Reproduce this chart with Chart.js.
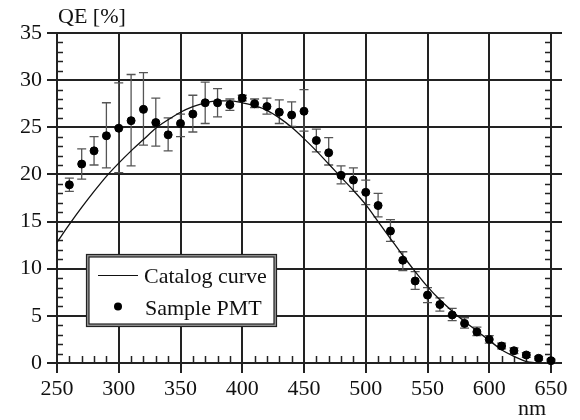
<!DOCTYPE html>
<html>
<head>
<meta charset="utf-8">
<script src="https://cdn.jsdelivr.net/npm/chart.js@4/dist/chart.umd.min.js"></script>
<style>
  html, body { margin: 0; padding: 0; background: #fff; }
  #wrap { width: 580px; height: 420px; position: relative; }
</style>
</head>
<body>
<div id="wrap"><canvas id="c" width="580" height="420"></canvas></div>
<script>
// ---- data ----
const nm = [260,270,280,290,300,310,320,330,340,350,360,370,380,390,400,410,420,430,440,450,
            460,470,480,490,500,510,520,530,540,550,560,570,580,590,600,610,620,630,640,650];
const qe = [18.9,21.1,22.5,24.1,24.9,25.7,26.9,25.5,24.2,25.4,26.4,27.6,27.6,27.4,28.1,27.5,27.2,26.6,26.3,26.7,
            23.6,22.3,19.9,19.4,18.1,16.7,14.0,10.9,8.7,7.2,6.2,5.1,4.2,3.3,2.5,1.8,1.3,0.85,0.5,0.25];
const qeUpper = [19.6,22.7,24.0,27.6,29.7,30.6,30.8,28.1,26.0,26.4,28.4,29.8,29.1,28.0,28.4,28.0,28.1,27.9,27.7,29.0,
                 24.8,23.9,20.9,20.7,19.4,18.0,15.2,11.8,9.7,8.0,6.9,5.8,4.8,3.8,2.9,2.1,1.6,1.1,0.7,0.4];
const qeLower = [18.2,19.5,21.0,20.7,20.2,20.9,23.1,23.0,22.5,24.0,24.5,25.4,26.1,26.8,27.8,27.1,26.4,25.4,25.1,24.6,
                 22.4,21.0,19.0,18.2,16.8,15.5,12.9,9.8,7.8,6.4,5.5,4.5,3.7,2.9,2.1,1.5,1.0,0.6,0.3,0.1];
const curveNm = [250,260,270,280,290,300,310,320,330,340,350,360,370,380,390,400,410,420,430,440,
                 450,460,470,480,490,500,510,520,530,540,550,560,570,580,590,600,610,620,630,640];
const curveQe = [12.8,14.7,16.5,18.2,19.8,21.2,22.5,23.7,24.9,25.8,26.6,27.2,27.6,27.8,27.8,27.6,27.3,26.8,26.0,25.0,
                 23.8,22.5,21.1,19.7,18.3,16.8,15.0,13.2,11.4,9.7,8.1,6.7,5.5,4.4,3.4,2.4,1.4,0.7,0.15,0];
const xTickLabels = [250,300,350,400,450,500,550,600,650];
const yTickLabels = [0,5,10,15,20,25,30,35];
const seriesNames = ['Catalog curve', 'Sample PMT'];
const yTitle = 'QE [%]';
const xTitle = 'nm';

const FONT = "'Liberation Serif', 'DejaVu Serif', serif";
const GRID = '#222';

const decor = {
  id: 'decor',
  beforeDatasetsDraw(chart) {
    const ctx = chart.ctx, xs = chart.scales.x, ys = chart.scales.y;
    const a = chart.chartArea;
    ctx.save();
    // minor ticks
    ctx.strokeStyle = GRID; ctx.lineWidth = 1.5;
    ctx.beginPath();
    for (let v = 1; v < 35; v++) {
      if (v % 5 === 0) continue;
      const y = Math.round(ys.getPixelForValue(v)) + 0.5;
      ctx.moveTo(a.left, y); ctx.lineTo(a.left + 6, y);
      ctx.moveTo(a.right, y); ctx.lineTo(a.right - 6, y);
    }
    for (let v = 260; v < 650; v += 10) {
      if (v % 50 === 0) continue;
      const x = Math.round(xs.getPixelForValue(v)) + 0.5;
      ctx.moveTo(x, a.bottom); ctx.lineTo(x, a.bottom - 7);
    }
    ctx.stroke();
    // error bars
    ctx.strokeStyle = '#555'; ctx.lineWidth = 1.3;
    ctx.beginPath();
    for (let i = 0; i < nm.length; i++) {
      const x = xs.getPixelForValue(nm[i]);
      const y1 = ys.getPixelForValue(qeUpper[i]);
      const y2 = ys.getPixelForValue(qeLower[i]);
      ctx.moveTo(x, y1); ctx.lineTo(x, y2);
      ctx.moveTo(x - 4.5, y1); ctx.lineTo(x + 4.5, y1);
      ctx.moveTo(x - 4.5, y2); ctx.lineTo(x + 4.5, y2);
    }
    ctx.stroke();
    ctx.restore();
  },
  afterDraw(chart) {
    const ctx = chart.ctx;
    ctx.save();
    // axis titles
    ctx.fillStyle = '#111';
    ctx.font = '22px ' + FONT;
    ctx.textBaseline = 'alphabetic';
    ctx.textAlign = 'left';
    ctx.fillText(yTitle, 58, 23);
    ctx.fillText(xTitle, 518, 415);
    // legend box
    const L = 86, T = 254, W = 191, H = 73;
    ctx.fillStyle = '#fff';
    ctx.fillRect(L, T, W, H);
    ctx.strokeStyle = '#999'; ctx.lineWidth = 3;
    ctx.strokeRect(L + 1.5, T + 1.5, W - 3, H - 3);
    ctx.strokeStyle = '#222'; ctx.lineWidth = 1.2;
    ctx.strokeRect(L + 0.5, T + 0.5, W - 1, H - 1);
    ctx.strokeRect(L + 3, T + 3, W - 6, H - 6);
    // entries
    ctx.strokeStyle = '#111'; ctx.lineWidth = 1.2;
    ctx.beginPath(); ctx.moveTo(98, 275.5); ctx.lineTo(138, 275.5); ctx.stroke();
    ctx.fillStyle = '#000';
    ctx.beginPath(); ctx.arc(118, 306.5, 4, 0, Math.PI * 2); ctx.fill();
    ctx.fillStyle = '#111';
    ctx.fillText(seriesNames[0], 144, 283);
    ctx.fillText(seriesNames[1], 145, 315);
    ctx.restore();
  }
};

new Chart(document.getElementById('c'), {
  type: 'scatter',
  data: {
    datasets: [
      {
        label: seriesNames[1],
        data: nm.map((x, i) => ({ x, y: qe[i] })),
        backgroundColor: '#000', borderColor: '#000',
        pointRadius: 4, pointHoverRadius: 4, showLine: false, clip: false
      },
      {
        label: seriesNames[0],
        type: 'line',
        data: curveNm.map((x, i) => ({ x, y: curveQe[i] })),
        borderColor: '#111', borderWidth: 1.3, pointRadius: 0,
        cubicInterpolationMode: 'monotone', fill: false
      }
    ]
  },
  options: {
    responsive: false, animation: false, devicePixelRatio: 1,
    layout: { padding: { top: 33, left: 0, right: 0, bottom: 0 } },
    plugins: { legend: { display: false }, tooltip: { enabled: false }, title: { display: false } },
    scales: {
      x: {
        type: 'linear', min: 250, max: 650,
        afterBuildTicks: s => { s.ticks = xTickLabels.map(v => ({ value: v })); },
        afterFit: s => { s.height = 57; },
        grid: { color: GRID, lineWidth: 2, tickLength: 10, drawTicks: true },
        border: { display: true, color: GRID, width: 2 },
        ticks: { color: '#111', font: { family: FONT, size: 22 }, padding: 3, maxRotation: 0, autoSkip: false }
      },
      y: {
        type: 'linear', min: 0, max: 35, position: 'left',
        afterBuildTicks: s => { s.ticks = yTickLabels.map(v => ({ value: v })); },
        afterFit: s => { s.width = 57; },
        grid: { color: GRID, lineWidth: 2, tickLength: 10, drawTicks: true },
        border: { display: true, color: GRID, width: 2 },
        ticks: { color: '#111', font: { family: FONT, size: 22 }, padding: 5 }
      },
      y2: {
        type: 'linear', min: 0, max: 35, position: 'right',
        afterBuildTicks: s => { s.ticks = yTickLabels.map(v => ({ value: v })); },
        afterFit: s => { s.width = 29; },
        grid: { color: GRID, lineWidth: 2, tickLength: 11, drawTicks: true, drawOnChartArea: false },
        border: { display: false },
        ticks: { display: false }
      }
    }
  },
  plugins: [decor]
});
</script>
</body>
</html>
